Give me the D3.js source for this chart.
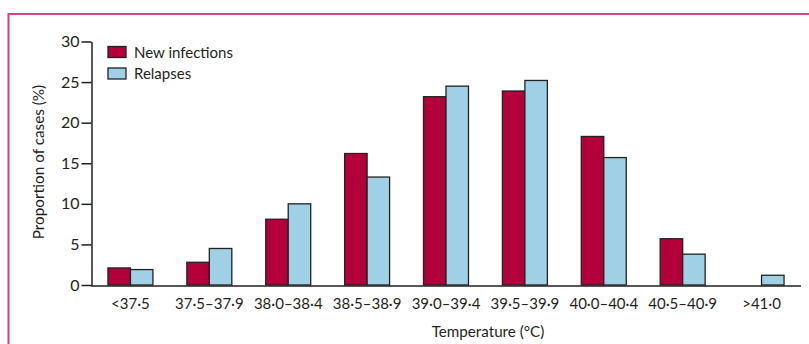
<!DOCTYPE html>
<html>
<head>
<meta charset="utf-8">
<script src="https://cdn.jsdelivr.net/npm/d3@7"></script>
<style>
body { margin: 0; background: #fff; }
text { font-family: Lato, "Open Sans", sans-serif; fill: #231f20; }
</style>
</head>
<body>
<script>
var categories = ["<37·5", "37·5–37·9", "38·0–38·4", "38·5–38·9", "39·0–39·4", "39·5–39·9", "40·0–40·4", "40·5–40·9", ">41·0"];
var newInfections = [2.1, 2.8, 8.1, 16.2, 23.2, 23.9, 18.3, 5.7, 0];
var relapses = [1.9, 4.5, 10.0, 13.3, 24.5, 25.2, 15.7, 3.8, 1.2];
var seriesNames = ["New infections", "Relapses"];
var colors = ["#b3003a", "#9fd0e5"];
var yTicks = [0, 5, 10, 15, 20, 25, 30];

var w = 809;
var h = 344;
var svg = d3.select("body")
			.append("svg")
			.attr("width", w)
			.attr("height", h);

// frame (top and left rule)
svg.append("path")
	.attr("d", "M8.5,344 V14 H809")
	.attr("fill", "none")
	.attr("stroke", "#d6457c")
	.attr("stroke-width", 2);

var x = d3.scaleBand()
			.domain(categories)
			.range([91, 801])
			.paddingInner(0.43)
			.paddingOuter(0.215);
var xs = d3.scaleBand()
			.domain([0, 1])
			.range([0, x.bandwidth()]);
var y = d3.scaleLinear()
			.domain([0, 30])
			.range([285, 41.5]);

var data = categories.map(function(c, i) {
	return { cat: c, vals: [newInfections[i], relapses[i]] };
});

var groups = svg.selectAll("g.grp")
			.data(data)
			.enter()
			.append("g")
			.attr("class", "grp")
			.attr("transform", function(d) { return "translate(" + x(d.cat) + ",0)"; });

groups.selectAll("rect")
	.data(function(d) { return d.vals.map(function(v, j) { return { v: v, j: j }; }); })
	.enter()
	.filter(function(d) { return d.v > 0; })
	.append("rect")
	.attr("x", function(d) { return xs(d.j); })
	.attr("y", function(d) { return y(d.v); })
	.attr("width", xs.bandwidth())
	.attr("height", function(d) { return y(0) - y(d.v); })
	.attr("fill", function(d) { return colors[d.j]; })
	.attr("stroke", "#222")
	.attr("stroke-width", 1.3);

// y axis
var yAxis = svg.append("g")
	.attr("transform", "translate(91.5,0)")
	.call(d3.axisLeft(y).tickValues(yTicks).tickSize(10).tickSizeOuter(0));
yAxis.select(".domain").attr("stroke", "#231f20").attr("stroke-width", 1.5);
yAxis.selectAll(".tick line").attr("stroke", "#231f20").attr("stroke-width", 1.5);
yAxis.selectAll(".tick text")
	.attr("x", -12)
	.attr("font-size", "16px")
	.style("font-family", "Lato, sans-serif");

// x axis
var xAxis = svg.append("g")
	.attr("transform", "translate(0,285.5)")
	.call(d3.axisBottom(x).tickSize(0).tickPadding(13));
xAxis.select(".domain")
	.attr("d", "M91,0.5H801")
	.attr("stroke", "#231f20")
	.attr("stroke-width", 1.5);
xAxis.selectAll(".tick text")
	.attr("font-size", "15px")
	.style("font-family", "Lato, sans-serif");

// axis titles
svg.append("text")
	.attr("transform", "translate(44,162) rotate(-90)")
	.attr("text-anchor", "middle")
	.attr("font-size", "15.3px")
	.text("Proportion of cases (%)");
svg.append("text")
	.attr("x", 488)
	.attr("y", 337)
	.attr("text-anchor", "middle")
	.attr("font-size", "15.2px")
	.text("Temperature (°C)");

// legend
var legend = svg.selectAll("g.leg")
	.data(seriesNames)
	.enter()
	.append("g")
	.attr("class", "leg")
	.attr("transform", function(d, i) { return "translate(108," + (46.5 + i * 21.5) + ")"; });
legend.append("rect")
	.attr("width", 18)
	.attr("height", 11)
	.attr("fill", function(d, i) { return colors[i]; })
	.attr("stroke", "#222")
	.attr("stroke-width", 1.3);
legend.append("text")
	.attr("x", 26)
	.attr("y", 11)
	.attr("font-size", "15px")
	.text(function(d) { return d; });
</script>
</body>
</html>
